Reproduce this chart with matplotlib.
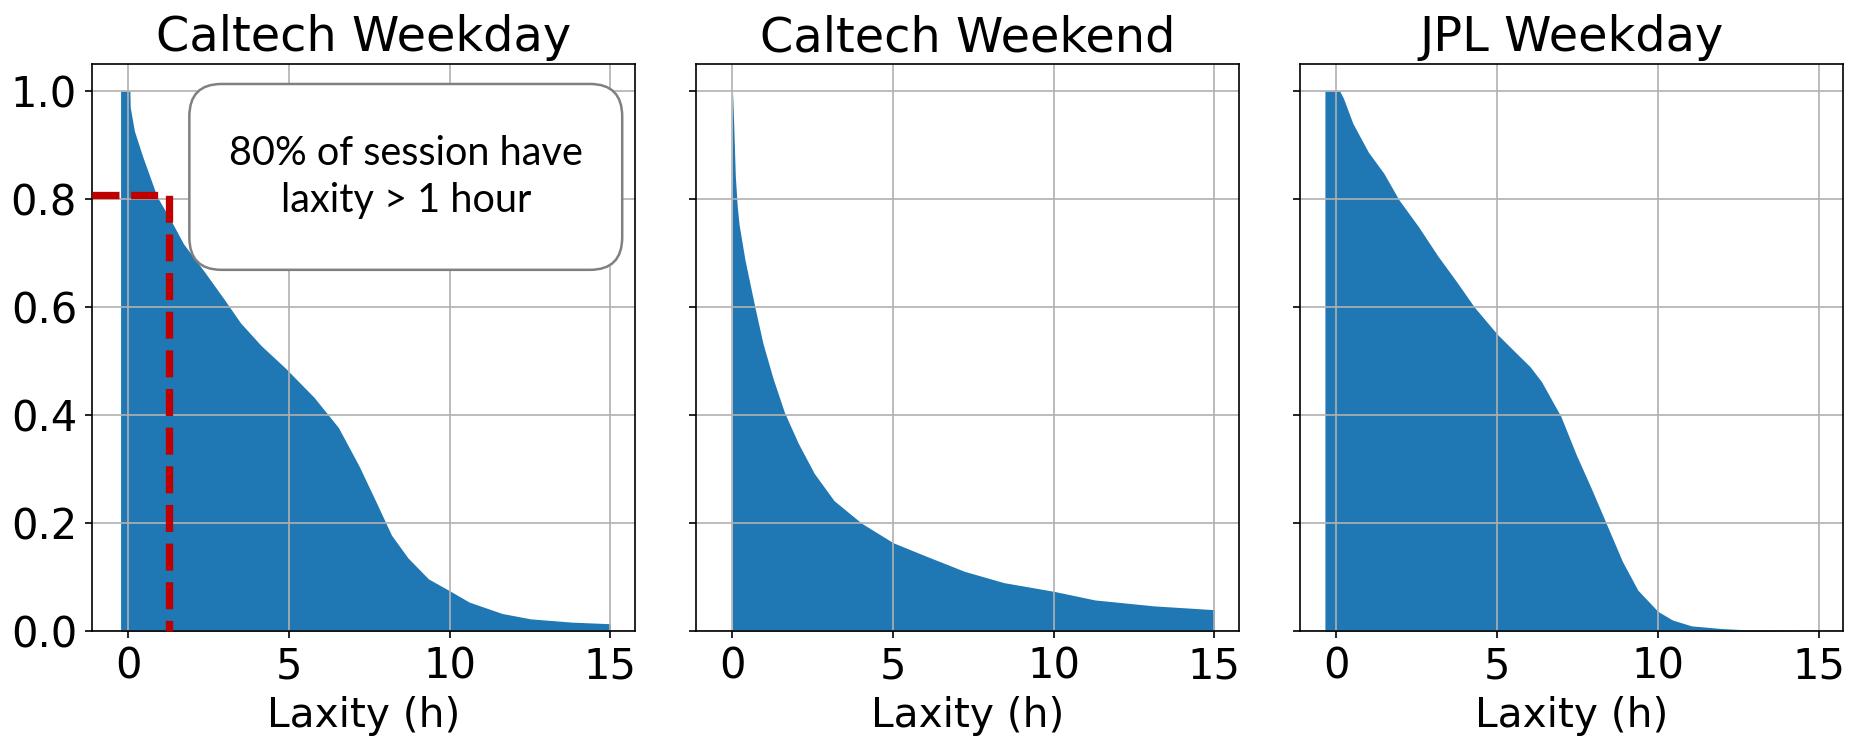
import matplotlib
matplotlib.use("Agg")
import matplotlib.pyplot as plt
from matplotlib.patches import FancyBboxPatch

# survival curves (fraction of sessions with laxity > x)
TITLES = ["Caltech Weekday", "Caltech Weekend", "JPL Weekday"]

cw_x = [-0.24, 0.05, 0.06, 0.19, 0.44, 0.70, 0.89, 1.33, 1.72, 2.35, 2.99, 3.49,
        4.13, 4.89, 5.78, 6.54, 7.18, 7.69, 8.19, 8.70, 9.34, 9.97, 10.61, 11.63,
        12.52, 13.79, 15.0]
cw_y = [1.0, 1.0, 0.97, 0.926, 0.88, 0.837, 0.805, 0.76, 0.717, 0.667, 0.614, 0.571,
        0.529, 0.487, 0.433, 0.377, 0.306, 0.242, 0.178, 0.136, 0.097, 0.076, 0.054,
        0.033, 0.023, 0.017, 0.014]

we_x = [0.0, 0.01, 0.04, 0.09, 0.15, 0.21, 0.39, 0.70, 0.95, 1.26, 1.62, 2.05, 2.55,
        3.16, 4.02, 5.0, 5.99, 7.22, 8.45, 10.0, 11.28, 13.12, 15.0]
we_y = [1.0, 0.99, 0.94, 0.844, 0.787, 0.752, 0.688, 0.60, 0.533, 0.469, 0.405, 0.348,
        0.292, 0.242, 0.20, 0.164, 0.14, 0.111, 0.09, 0.074, 0.058, 0.047, 0.04]

jpl_x = [-0.36, 0.10, 0.22, 0.51, 0.99, 1.47, 1.95, 2.55, 3.15, 3.75, 4.29, 5.0, 5.54,
         6.02, 6.38, 6.98, 7.46, 7.94, 8.42, 8.90, 9.38, 10.0, 10.45, 11.05, 12.0,
         13.2, 15.0]
jpl_y = [1.0, 1.0, 0.986, 0.94, 0.887, 0.848, 0.798, 0.749, 0.695, 0.646, 0.60, 0.55,
         0.518, 0.49, 0.462, 0.398, 0.327, 0.263, 0.196, 0.129, 0.076, 0.037, 0.021,
         0.01, 0.005, 0.0015, 0.0]

SERIES = [(cw_x, cw_y), (we_x, we_y), (jpl_x, jpl_y)]

# 80% marker on the first panel
mark_x, mark_y = 1.27, 0.807
note = "80% of session have\nlaxity > 1 hour"

XLIM = (-1.14, 15.77)

fig, axes = plt.subplots(1, 3, figsize=(12.42, 4.92), dpi=150, sharex=True, sharey=True)
fig.subplots_adjust(left=0.0492, right=0.9894, bottom=0.1446, top=0.9133, wspace=0.1117)

for ax, title, (xs, ys) in zip(axes, TITLES, SERIES):
    # close the polygon on the baseline so it looks like a stepfilled hist
    ax.fill_between([xs[0]] + xs + [xs[-1]], [0] + ys + [0], color="#1f77b4", lw=0)
    ax.set_title(title, fontsize=23)
    ax.set_xlabel("Laxity (h)", fontsize=19.5)
    ax.grid(True, color="#b0b0b0", lw=0.8)
    ax.tick_params(labelsize=20)
    ax.set_xticks([0, 5, 10, 15])
    ax.set_yticks([0.0, 0.2, 0.4, 0.6, 0.8, 1.0])

axes[0].set_xlim(*XLIM)
axes[0].set_ylim(0, 1.05)

ax = axes[0]
ax.plot([XLIM[0], mark_x, mark_x], [mark_y, mark_y, 0], ls="--", color="#c00000",
        lw=3.5, zorder=3, clip_on=False)
box = FancyBboxPatch((1.90, 0.669), 15.37 - 1.90, 1.013 - 0.669,
                     boxstyle="round,pad=0,rounding_size=1.0", mutation_aspect=0.06,
                     fc="white", ec="#808080", lw=1.2, zorder=4)
ax.add_patch(box)
ax.text((1.90 + 15.37) / 2, (0.669 + 1.013) / 2, note, ha="center", va="center",
        fontsize=19, family="Lato", linespacing=1.35, zorder=5)

fig.savefig("out.png", dpi=150)
